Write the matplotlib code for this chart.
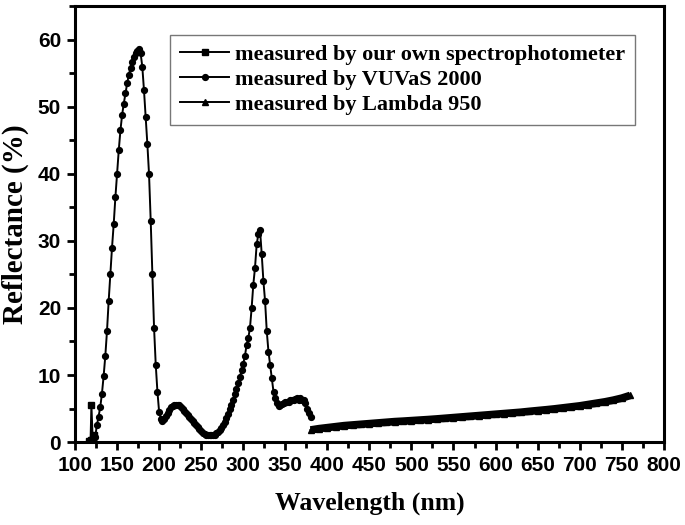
import numpy as np
import matplotlib
matplotlib.use("Agg")
import matplotlib.pyplot as plt
from matplotlib.ticker import MultipleLocator

# measured by our own spectrophotometer
own_wl = [117, 118.5, 119.5, 121, 123]
own_r = [0.2, 0.3, 5.5, 0.5, 1.0]

# measured by VUVaS 2000 (every 2 nm, 124..380)
vuv_wl = np.arange(124, 381, 2)
vuv_r = [
    0.8, 2.5, 3.8, 5.2, 7.2, 9.8, 12.8, 16.5, 21.0, 25.0,
    29.0, 32.5, 36.5, 40.0, 43.5, 46.5, 48.8, 50.5, 52.0, 53.5,
    54.8, 55.8, 56.7, 57.4, 58.0, 58.4, 58.6, 58.0, 56.0, 52.5,
    48.5, 44.5, 40.0, 33.0, 25.0, 17.0, 11.5, 7.5, 4.5, 3.5,
    3.2, 3.4, 3.9, 4.4, 4.8, 5.2, 5.4, 5.6, 5.6, 5.6,
    5.5, 5.3, 5.0, 4.7, 4.4, 4.1, 3.8, 3.5, 3.1, 2.8,
    2.5, 2.2, 1.9, 1.6, 1.4, 1.2, 1.1, 1.0, 1.0, 1.0,
    1.0, 1.1, 1.3, 1.5, 1.8, 2.1, 2.5, 3.0, 3.6, 4.2,
    4.9, 5.6, 6.3, 7.1, 7.9, 8.8, 9.7, 10.7, 11.7, 12.8,
    14.5, 15.5, 17.0, 20.0, 23.5, 26.0, 29.5, 31.0, 31.6, 28.0,
    24.0, 21.0, 16.5, 13.5, 11.5, 9.5, 7.5, 6.5, 5.8, 5.4,
    5.6, 5.7, 5.8, 5.9, 6.0, 5.9, 6.2, 6.3, 6.3, 6.4,
    6.5, 6.3, 6.5, 6.3, 6.2, 5.8, 5.0, 4.3, 3.7,
]

# measured by Lambda 950 (every 10 nm, 380..760)
lam_wl = np.arange(380, 761, 10)
lam_r = [
    1.8, 2.0, 2.15, 2.3, 2.45, 2.55, 2.65, 2.75, 2.85, 2.95,
    3.05, 3.12, 3.2, 3.28, 3.36, 3.45, 3.55, 3.65, 3.75, 3.85,
    3.95, 4.05, 4.15, 4.25, 4.35, 4.45, 4.58, 4.7, 4.82, 4.95,
    5.1, 5.25, 5.4, 5.6, 5.8, 6.0, 6.25, 6.55, 6.95,
]

serif = ["Liberation Serif", "DejaVu Serif"]
sans = ["Liberation Sans", "DejaVu Sans"]

fig = plt.figure(figsize=(6.85, 5.25), dpi=100)
ax = fig.add_axes([0.1095, 0.158, 0.8595, 0.830])

ax.plot(own_wl, own_r, color="black", lw=1.4, marker="s", ms=4.5,
        label="measured by our own spectrophotometer")
ax.plot(vuv_wl, vuv_r, color="black", lw=1.4, marker="o", ms=4.2,
        label="measured by VUVaS 2000")
# Lambda 950 points are so dense they form a solid band
ax.plot(lam_wl, lam_r, color="black", lw=5.5, solid_capstyle="butt")
ax.plot(lam_wl, lam_r, color="black", lw=1.4, marker="^", ms=4.5,
        label="measured by Lambda 950")

ax.set_xlim(100, 800)
ax.set_ylim(0, 65)
ax.xaxis.set_major_locator(MultipleLocator(50))
ax.xaxis.set_minor_locator(MultipleLocator(25))
ax.yaxis.set_major_locator(MultipleLocator(10))
ax.yaxis.set_minor_locator(MultipleLocator(5))
ax.tick_params(which="both", direction="out", width=2, top=False, right=False)
ax.tick_params(which="major", length=6, pad=4)
ax.tick_params(which="minor", length=4)
for s in ax.spines.values():
    s.set_linewidth(2.2)

for lab in ax.get_xticklabels() + ax.get_yticklabels():
    lab.set_family(sans)
    lab.set_fontweight("bold")
    lab.set_fontsize(15)

ax.set_xlabel("Wavelength (nm)", family=serif, fontweight="bold", fontsize=18.5, labelpad=12)
ax.set_ylabel("Reflectance (%)", family=serif, fontweight="bold", fontsize=21, labelpad=6)

leg = ax.legend(loc="upper right", bbox_to_anchor=(0.951, 0.935), borderaxespad=0,
                prop={"family": serif, "weight": "bold", "size": 16},
                fancybox=False, handlelength=2.2, labelspacing=0.2, borderpad=0.45,
                handletextpad=0.25)
leg.get_frame().set_edgecolor("#555555")
leg.get_frame().set_linewidth(1.0)

fig.savefig("out.png", dpi=100)
